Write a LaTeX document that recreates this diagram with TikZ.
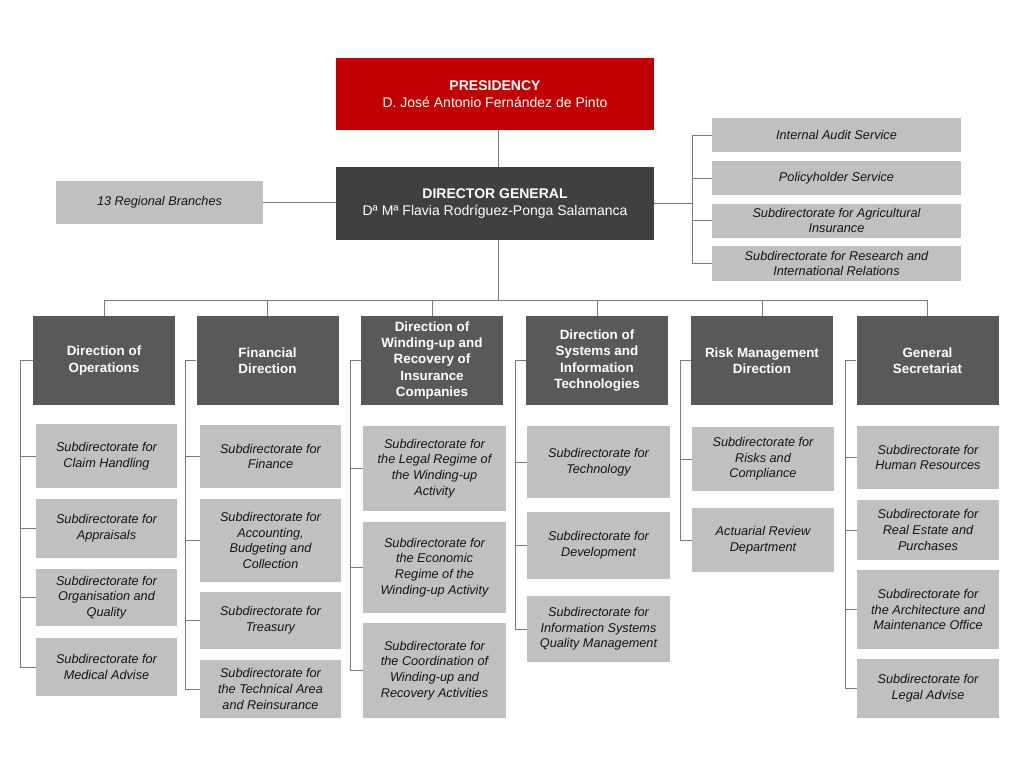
\documentclass[tikz,border=0pt]{standalone}
\usepackage{fontspec}
\setmainfont{Liberation Sans}
\definecolor{presred}{HTML}{C00000}
\definecolor{dgray}{HTML}{404040}
\definecolor{hgray}{HTML}{595959}
\definecolor{lgray}{HTML}{C0C0C0}
\definecolor{lcol}{HTML}{7A7A7A}
\definecolor{tcol}{HTML}{141414}
\tikzset{
  box/.style={rectangle, inner sep=0pt, align=center},
  presbox/.style={box, fill=presred, text=white, font=\fontsize{14}{17}\selectfont},
  dgbox/.style={box, fill=dgray, text=white, font=\fontsize{14}{17}\selectfont},
  headbox/.style={box, fill=hgray, text=white, minimum width=142pt, minimum height=89pt, font=\fontsize{13.4}{16.3}\selectfont\bfseries},
  subbox/.style={box, fill=lgray, text=tcol, font=\fontsize{12.7}{15.6}\selectfont\itshape},
  conn/.style={draw=lcol, line width=1pt},
}
\begin{document}
\begin{tikzpicture}[x=1pt,y=-1pt]
\useasboundingbox[fill=white] (0,0) rectangle (1029,772);

% top
\node[presbox, minimum width=318pt, minimum height=72pt] (pres) at (495,94) {\textbf{PRESIDENCY}\\D. José Antonio Fernández de Pinto};
\node[dgbox, minimum width=318pt, minimum height=73pt] (dg) at (495,203.5) {\textbf{DIRECTOR GENERAL}\\Dª Mª Flavia Rodríguez-Ponga Salamanca};
\node[subbox, minimum width=207pt, minimum height=43pt] (reg) at (159.5,202.5) {13 Regional Branches};

% staff boxes
\node[subbox, minimum width=249pt, minimum height=34pt] (a1) at (836.5,135) {Internal Audit Service};
\node[subbox, minimum width=249pt, minimum height=34pt] (a2) at (836.5,178) {Policyholder Service};
\node[subbox, minimum width=249pt, minimum height=34pt] (a3) at (836.5,220.5) {Subdirectorate for Agricultural\\Insurance};
\node[subbox, minimum width=249pt, minimum height=35pt] (a4) at (836.5,263.5) {Subdirectorate for Research and\\International Relations};

% directions
\node[headbox] (d1) at (104,360.5) {Direction of\\Operations};
\node[headbox] (d2) at (267.5,360.5) {Financial\\Direction};
\node[headbox] (d3) at (432,360.5) {Direction of\\Winding-up and\\Recovery of\\Insurance\\Companies};
\node[headbox] (d4) at (597,360.5) {Direction of\\Systems and\\Information\\Technologies};
\node[headbox] (d5) at (762,360.5) {Risk Management\\Direction};
\node[headbox] (d6) at (927.5,360.5) {General\\Secretariat};

% operations column
\node[subbox, minimum width=141pt, minimum height=64pt] (o1) at (106.5,456) {Subdirectorate for\\Claim Handling};
\node[subbox, minimum width=141pt, minimum height=59pt] (o2) at (106.5,528.5) {Subdirectorate for\\Appraisals};
\node[subbox, minimum width=141pt, minimum height=57pt] (o3) at (106.5,597.5) {Subdirectorate for\\Organisation and\\Quality};
\node[subbox, minimum width=141pt, minimum height=58pt] (o4) at (106.5,667) {Subdirectorate for\\Medical Advise};

% financial column
\node[subbox, minimum width=141pt, minimum height=63pt] (f1) at (270.5,456.5) {Subdirectorate for\\Finance};
\node[subbox, minimum width=141pt, minimum height=83pt] (f2) at (270.5,540.5) {Subdirectorate for\\Accounting,\\Budgeting and\\Collection};
\node[subbox, minimum width=141pt, minimum height=57pt] (f3) at (270.5,620.5) {Subdirectorate for\\Treasury};
\node[subbox, minimum width=141pt, minimum height=58pt] (f4) at (270.5,689) {Subdirectorate for\\the Technical Area\\and Reinsurance};

% winding-up column
\node[subbox, minimum width=143pt, minimum height=85pt] (w1) at (434.5,468.5) {Subdirectorate for\\the Legal Regime of\\the Winding-up\\Activity};
\node[subbox, minimum width=143pt, minimum height=91pt] (w2) at (434.5,567.5) {Subdirectorate for\\the Economic\\Regime of the\\Winding-up Activity};
\node[subbox, minimum width=143pt, minimum height=95pt] (w3) at (434.5,670.5) {Subdirectorate for\\the Coordination of\\Winding-up and\\Recovery Activities};

% systems column
\node[subbox, minimum width=143pt, minimum height=72pt] (s1) at (598.5,462) {Subdirectorate for\\Technology};
\node[subbox, minimum width=143pt, minimum height=67pt] (s2) at (598.5,545.5) {Subdirectorate for\\Development};
\node[subbox, minimum width=143pt, minimum height=66pt] (s3) at (598.5,629) {Subdirectorate for\\Information Systems\\Quality Management};

% risk column
\node[subbox, minimum width=142pt, minimum height=64pt] (r1) at (763,459) {Subdirectorate for\\Risks and\\Compliance};
\node[subbox, minimum width=142pt, minimum height=64pt] (r2) at (763,540) {Actuarial Review\\Department};

% general secretariat column
\node[subbox, minimum width=142pt, minimum height=63pt] (g1) at (928,457.5) {Subdirectorate for\\Human Resources};
\node[subbox, minimum width=142pt, minimum height=60pt] (g2) at (928,530) {Subdirectorate for\\Real Estate and\\Purchases};
\node[subbox, minimum width=142pt, minimum height=79pt] (g3) at (928,609.5) {Subdirectorate for\\the Architecture and\\Maintenance Office};
\node[subbox, minimum width=142pt, minimum height=59pt] (g4) at (928,688.5) {Subdirectorate for\\Legal Advise};

% connectors: top
\coordinate (tr) at (498,300);
\coordinate (rv) at (692,200);
\draw[conn] (pres.south -| tr) -- (dg.north -| tr);
\draw[conn] (dg.south -| tr) -- (tr);
\draw[conn] (reg.east) -- (reg.east -| dg.west);
\draw[conn] (dg.east) -- (dg.east -| rv);
\draw[conn] (a1.west) -- (a1.west -| rv) -- (a4.west -| rv) -- (a4.west);
\draw[conn] (a2.west) -- (a2.west -| rv);
\draw[conn] (a3.west) -- (a3.west -| rv);

% bus
\draw[conn] (d1.north) -- (d1.north |- tr) -- (d6.north |- tr) -- (d6.north);
\foreach \d in {d2,d3,d4,d5} \draw[conn] (\d.north) -- (\d.north |- tr);

% columns
\draw[conn] (d1.west) -- ++(-12,0) coordinate (v1) |- (o4.west);
\foreach \s in {o1,o2,o3} \draw[conn] (\s.west) -- (\s.west -| v1);
\draw[conn] (d2.west) -- ++(-11,0) coordinate (v2) |- (f4.west);
\foreach \s in {f1,f2,f3} \draw[conn] (\s.west) -- (\s.west -| v2);
\draw[conn] (d3.west) -- ++(-10,0) coordinate (v3) |- (w3.west);
\foreach \s in {w1,w2} \draw[conn] (\s.west) -- (\s.west -| v3);
\draw[conn] (d4.west) -- ++(-10,0) coordinate (v4) |- (s3.west);
\foreach \s in {s1,s2} \draw[conn] (\s.west) -- (\s.west -| v4);
\draw[conn] (d5.west) -- ++(-10,0) coordinate (v5) |- (r2.west);
\draw[conn] (r1.west) -- (r1.west -| v5);
\draw[conn] (d6.west) -- ++(-11,0) coordinate (v6) |- (g4.west);
\foreach \s in {g1,g2,g3} \draw[conn] (\s.west) -- (\s.west -| v6);
\end{tikzpicture}
\end{document}
